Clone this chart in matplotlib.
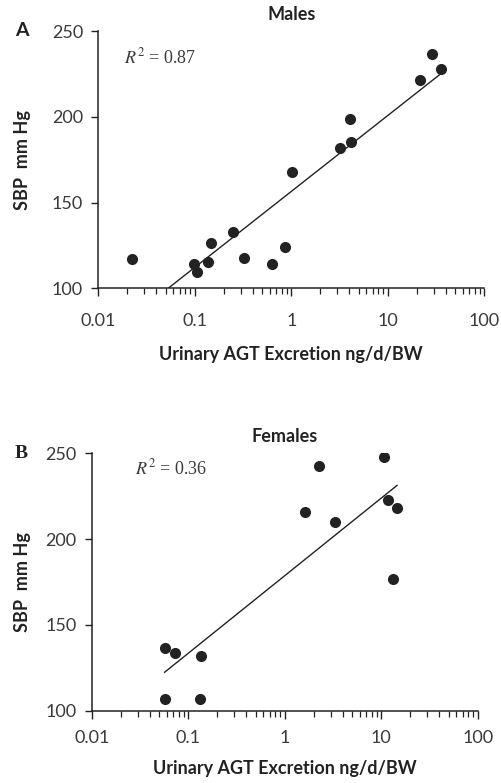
import numpy as np
import matplotlib
matplotlib.use("Agg")
import matplotlib.pyplot as plt
from matplotlib.ticker import LogLocator, NullFormatter, FixedLocator, FixedFormatter

# ======================
# DATA
# ======================
males_x = [0.0225, 0.097, 0.105, 0.138, 0.148, 0.247, 0.326, 0.635, 0.859,
           1.007, 3.22, 4.02, 4.19, 21.4, 28.7, 35.3]
males_y = [117.3, 114.0, 109.7, 115.6, 126.4, 132.8, 117.7, 114.4, 124.1,
           168.0, 182.0, 198.7, 185.1, 221.2, 236.4, 228.0]
males_fit_x = [0.053, 35.3]
males_fit_y = [100.0, 225.0]
males_r2 = "0.87"

females_x = [0.057, 0.0725, 0.136, 0.058, 0.131, 1.62, 2.29, 3.32, 10.8, 11.7, 14.6, 13.3]
females_y = [136.7, 133.8, 131.9, 107.0, 107.0, 216.0, 242.8, 209.8, 247.9, 222.8, 217.9, 176.8]
females_fit_x = [0.057, 14.6]
females_fit_y = [122.4, 231.3]
females_r2 = "0.36"

x_ticks = [0.01, 0.1, 1, 10, 100]
x_ticklabels = ["0.01", "0.1", "1", "10", "100"]
y_ticks = [100, 150, 200, 250]

W, H = 502, 783
DPI = 100
LABEL_FONT = "Lato"
DARK = "#222222"

fig = plt.figure(figsize=(W / DPI, H / DPI), dpi=DPI)


def px_axes(left, right, top, bottom):
    return fig.add_axes([left / W, 1 - bottom / H, (right - left) / W, (bottom - top) / H])


def style_panel(ax, xs, ys, fx, fy, title, r2, letter, letter_family, r2_pos, letter_x,
                xtick_pad, ylab_x, xlab_y):
    ax.scatter(xs, ys, s=64, color=DARK, zorder=3, linewidths=0)
    ax.plot(fx, fy, color=DARK, lw=1.0, zorder=2)
    ax.set_xscale("log")
    ax.set_xlim(0.01, 100)
    ax.set_ylim(100, 250)
    ax.spines["top"].set_visible(False)
    ax.spines["right"].set_visible(False)
    for s in ("left", "bottom"):
        ax.spines[s].set_linewidth(1.1)
        ax.spines[s].set_color(DARK)
    ax.xaxis.set_major_locator(FixedLocator(x_ticks))
    ax.xaxis.set_major_formatter(FixedFormatter(x_ticklabels))
    ax.xaxis.set_minor_locator(LogLocator(base=10, subs=np.arange(2, 10)))
    ax.xaxis.set_minor_formatter(NullFormatter())
    ax.set_yticks(y_ticks)
    ax.tick_params(axis="x", which="major", direction="out", length=6, width=1.0,
                   color=DARK, pad=xtick_pad, labelsize=13, labelcolor="#3a3a3a")
    ax.tick_params(axis="x", which="minor", direction="out", length=4, width=0.9, color=DARK)
    ax.tick_params(axis="y", which="major", direction="out", length=5, width=1.0,
                   color=DARK, pad=6, labelsize=13, labelcolor="#3a3a3a")
    for lab in ax.get_xticklabels() + ax.get_yticklabels():
        lab.set_family(LABEL_FONT)
    ax.set_title(title, fontsize=13, fontweight="bold", family=LABEL_FONT, color=DARK, pad=8)
    ax.set_ylabel("SBP  mm Hg", fontsize=13, fontweight="bold", family=LABEL_FONT, color=DARK)
    ax.set_xlabel("Urinary AGT Excretion ng/d/BW", fontsize=13, fontweight="bold",
                  family=LABEL_FONT, color=DARK)
    ax.yaxis.set_label_coords(ylab_x, 0.5)
    ax.xaxis.set_label_coords(0.5, xlab_y)
    ax.text(r2_pos[0], r2_pos[1], r"$R^2$ = " + r2, transform=ax.transAxes,
            fontsize=13, family="Liberation Serif", color="#3a3a3a", va="center", ha="left",
            math_fontfamily="stix")
    ax.text(letter_x, 1.0, letter, transform=ax.transAxes, fontsize=14, fontweight="bold",
            family=letter_family, color=DARK, va="center", ha="left")


axA = px_axes(98.3, 484.3, 31.0, 288.3)
style_panel(axA, males_x, males_y, males_fit_x, males_fit_y, "Males", males_r2,
            "A", LABEL_FONT, (0.067, 0.899), -0.216, 12, -0.175, -0.225)

axB = px_axes(91.7, 477.7, 453.3, 710.7)
style_panel(axB, females_x, females_y, females_fit_x, females_fit_y, "Females", females_r2,
            "B", "Liberation Serif", (0.112, 0.943), -0.199, 8, -0.158, -0.19)

fig.savefig("out.png", dpi=DPI)
